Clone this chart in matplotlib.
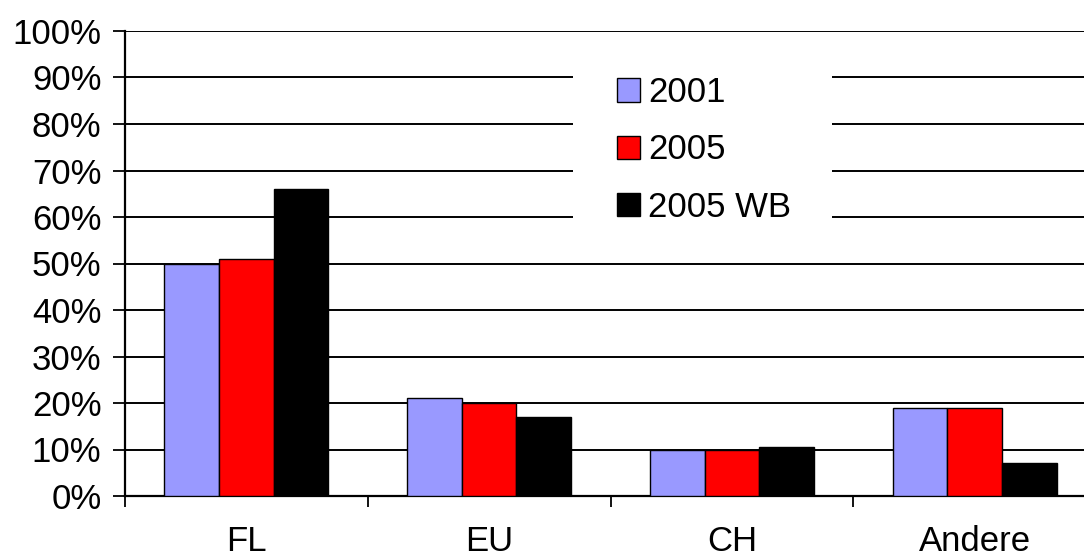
import matplotlib.pyplot as plt
import numpy as np
from matplotlib.patches import Rectangle

## ---------------- data ----------------
categories = ['FL', 'EU', 'CH', 'Andere']
series_names = ['2001', '2005', '2005 WB']
vals_2001 = [50, 21, 10, 19]
vals_2005 = [51, 20, 10, 19]
vals_2005_wb = [66, 17, 10.6, 7]
colors = ['#9999FF', '#FF0000', '#000000']
yticks = list(range(0, 101, 10))

plt.rcParams['font.family'] = ['Liberation Sans', 'DejaVu Sans']

W, H = 1084, 558
fig = plt.figure(figsize=(W / 100, H / 100), dpi=100)
# plot area runs a little past the right edge of the figure
ax = fig.add_axes([125 / W, 62 / H, (1096 - 125) / W, (496 - 31) / H])

x = np.arange(len(categories))
w = 0.225
for i, (vals, name) in enumerate(zip([vals_2001, vals_2005, vals_2005_wb], series_names)):
    ax.bar(x + (i - 1) * w, vals, width=w, color=colors[i], edgecolor='black',
           linewidth=1.0, label=name, zorder=3)

## ---------------- axes ----------------
ax.set_xlim(-0.5, len(categories) - 0.5)
ax.set_ylim(0, 100)
ax.set_yticks(yticks)
ax.set_yticklabels([f'{t}%' for t in yticks], fontsize=25)
ax.yaxis.grid(True, color='black', linewidth=1.4, zorder=0)
ax.set_axisbelow(True)

ax.set_xticks(x)
ax.set_xticklabels(categories, fontsize=25)
ax.set_xticks(np.arange(len(categories) + 1) - 0.5, minor=True)
ax.tick_params(axis='x', which='major', length=0, pad=21)
ax.tick_params(axis='x', which='minor', length=8, width=1.3, direction='out')
ax.tick_params(axis='y', length=9, width=1.3, direction='out', pad=8)

for s in ['top', 'right']:
    ax.spines[s].set_visible(False)
for s in ['left', 'bottom']:
    ax.spines[s].set_linewidth(1.6)

## ---------------- legend ----------------
# white panel behind the legend hides the gridlines there
ax.add_patch(Rectangle(((573 - 125) / 971, (496 - 245) / 465), (832 - 573) / 971, 190 / 465,
                       transform=ax.transAxes, facecolor='white', edgecolor='none', zorder=1))
leg = ax.legend(loc='center', bbox_to_anchor=(704 / W, 1 - 150 / H),
                bbox_transform=fig.transFigure, fontsize=25, frameon=False,
                handlelength=0.66, handleheight=0.66, handletextpad=0.25,
                labelspacing=0.7, borderpad=0)
leg.set_zorder(5)

plt.savefig('out.png', dpi=100)
